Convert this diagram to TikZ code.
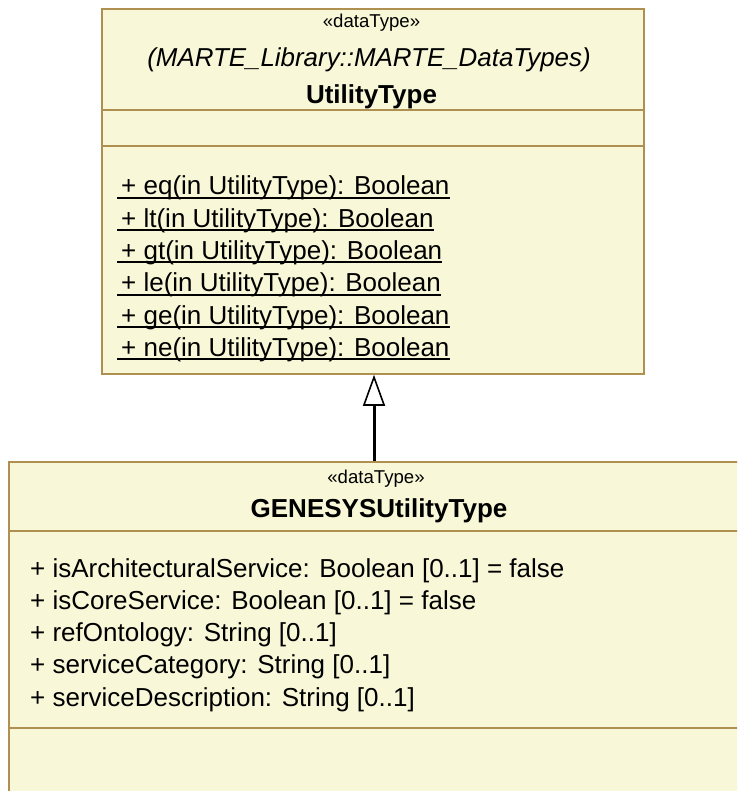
\documentclass[tikz,border=0pt]{standalone}
\usepackage{fontspec}
\setmainfont{Liberation Sans}
\usetikzlibrary{arrows.meta}

\definecolor{classfill}{RGB}{248,248,216}
\definecolor{classline}{RGB}{176,144,80}

% underlined operation text, rule placed just under the baseline
\newcommand\oprow[1]{\setbox0\hbox{\kern4pt#1}\rlap{\rule[-3.6pt]{\wd0}{1.8pt}}\box0}

\tikzset{
  classbox/.style={draw=classline, fill=classfill, line width=1.8pt, inner sep=0pt},
  divider/.style={draw=classline, line width=1.8pt},
  stereo/.style={font=\fontsize{18.6}{20}\selectfont, anchor=base, inner sep=0pt},
  pkgname/.style={font=\fontsize{25.9}{28}\selectfont\itshape, anchor=base, inner sep=0pt},
  clsname/.style={font=\fontsize{26}{28}\selectfont\bfseries, anchor=base, inner sep=0pt},
  member/.style={font=\fontsize{26}{28}\selectfont, anchor=base west, inner sep=0pt},
  generalization/.style={line width=3pt, -{Triangle[open, length=31pt, width=22pt, line width=1.6pt]}, shorten >=0pt}
}

\begin{document}
\begin{tikzpicture}[x=1pt, y=-1pt]
  \useasboundingbox (0,0) rectangle (737,791);
  \clip (0,0) rectangle (737,791);

  % UtilityType class
  \node[classbox, minimum width=542pt, minimum height=365pt, anchor=north west] (top) at (101,8) {};
  \draw[divider] (top.west |- 0,110) -- (top.east |- 0,110);
  \draw[divider] (top.west |- 0,146) -- (top.east |- 0,146);
  \node[stereo] (tst) at (371.5,28) {«dataType»};
  \node[pkgname] (tpkg) at (369,67) {(MARTE\_Library::MARTE\_DataTypes)};
  \node[clsname] (tname) at (371.5,104) {UtilityType};
  \node[member] (op1) at (117,195) {\oprow{+ eq(in UtilityType): Boolean}};
  \node[member] (op2) at (117,227.3) {\oprow{+ lt(in UtilityType): Boolean}};
  \node[member] (op3) at (117,259.6) {\oprow{+ gt(in UtilityType): Boolean}};
  \node[member] (op4) at (117,291.9) {\oprow{+ le(in UtilityType): Boolean}};
  \node[member] (op5) at (117,324.2) {\oprow{+ ge(in UtilityType): Boolean}};
  \node[member] (op6) at (117,356.5) {\oprow{+ ne(in UtilityType): Boolean}};

  % GENESYSUtilityType class
  \node[classbox, minimum width=740pt, minimum height=360pt, anchor=north west] (gen) at (8,461) {};
  \draw[divider] (gen.west |- 0,531) -- (gen.east |- 0,531);
  \draw[divider] (gen.west |- 0,728) -- (gen.east |- 0,728);
  \node[stereo] (gst) at (376,483) {«dataType»};
  \node[clsname] (gname) at (379,517) {GENESYSUtilityType};
  \node[member] (a1) at (30,577) {+ isArchitecturalService: Boolean [0..1] = false};
  \node[member] (a2) at (30,609.3) {+ isCoreService: Boolean [0..1] = false};
  \node[member] (a3) at (30,641.6) {+ refOntology: String [0..1]};
  \node[member] (a4) at (30,673.9) {+ serviceCategory: String [0..1]};
  \node[member] (a5) at (30,706.2) {+ serviceDescription: String [0..1]};

  % generalization
  \coordinate (gx) at (374,0);
  \draw[generalization] (gx |- gen.north) -- (gx |- top.south);
\end{tikzpicture}
\end{document}
